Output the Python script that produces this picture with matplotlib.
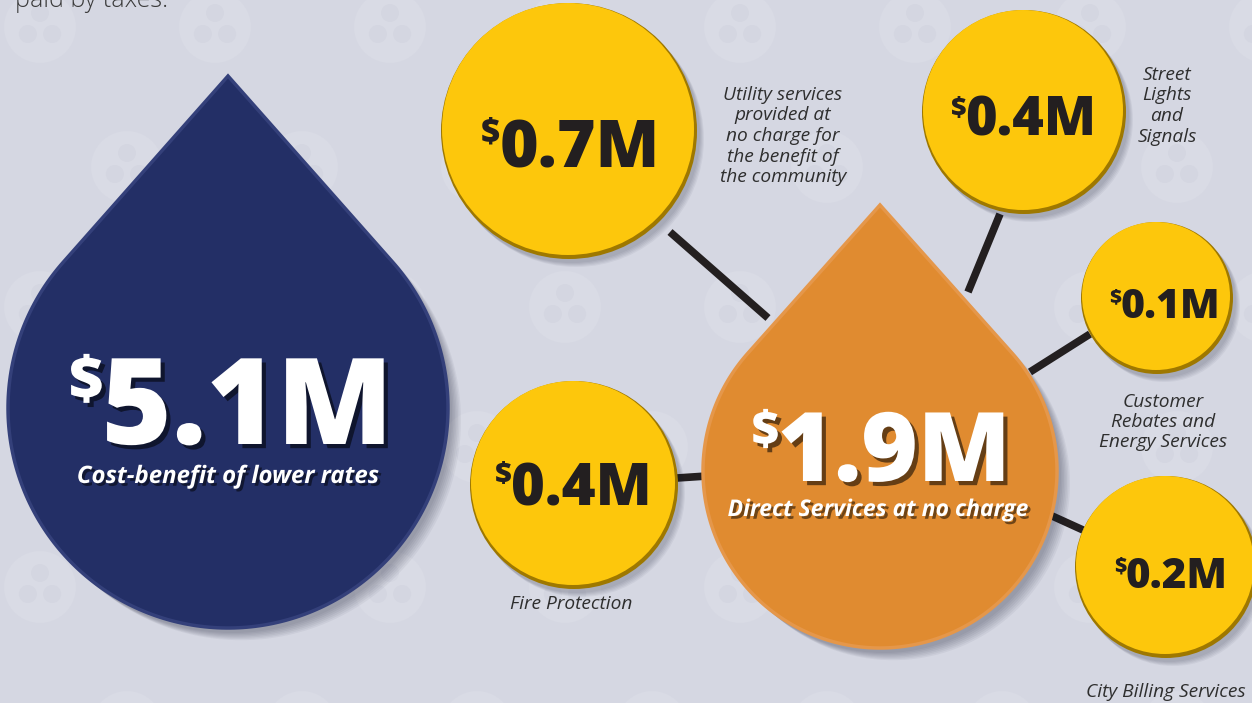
import numpy as np
import matplotlib
matplotlib.use("Agg")
import matplotlib.pyplot as plt
from matplotlib.path import Path
from matplotlib.patches import PathPatch, Circle
import matplotlib.patheffects as pe

# ---------------- data ----------------
main_values = [5.1, 1.9]
main_labels = ["Cost-benefit of lower rates", "Direct Services at no charge"]
service_values = [0.7, 0.4, 0.1, 0.4, 0.2]
service_labels = [
    "Utility services\nprovided at\nno charge for\nthe benefit of\nthe community",
    "Street\nLights\nand\nSignals",
    "Customer\nRebates and\nEnergy Services",
    "Fire Protection",
    "City Billing Services",
]
header_text = "paid by taxes."

# ---------------- layout / style ----------------
W, H = 1252, 703
BG = "#D5D7E2"
NAVY = "#232F66"
ORANGE = "#E08B30"
YELLOW = "#FDC70C"
DARK = "#231F20"
LABEL = "#2E2E2E"

# drops: (cx, cy, r, tip_y)
drop_geom = [(228, 408, 220, 76), (880, 471, 177, 205)]
drop_colors = [NAVY, ORANGE]
drop_edges = ["#34407A", "#E5974A"]
main_num_pos = [(232, 444, 120), (882, 481, 96)]  # x, baseline y, font px
main_lab_pos = [(228, 483, 24), (878, 516, 23)]

# circles: (cx, cy, r)
circ_geom = [(569, 131, 128), (1024, 112, 102), (1157, 298, 76), (574, 485, 104), (1166, 567, 91)]
circ_num = [(571, 167, 66), (1024, 136, 54), (1165, 318, 41), (574, 505, 58), (1171, 588, 42)]
# label anchor (x, first line y center, line step)
lab_pos = [(783, 95, 20.5), (1167, 75, 20.5), (1163, 402, 20), (571, 604, 20), (1166, 692, 20)]
# connectors from circle point to drop point
connectors = [((670, 232), (768, 318)), ((1000, 214), (968, 292)), ((1090, 334), (1030, 372)),
              ((677, 478), (707, 476)), ((1050, 515), (1083, 530))]

fig = plt.figure(figsize=(W / 100, H / 100), dpi=100)
fig.patch.set_facecolor(BG)
ax = fig.add_axes([0, 0, 1, 1])
ax.set_xlim(0, W)
ax.set_ylim(H, 0)
ax.axis("off")
ax.set_facecolor(BG)

# ---- background watermark pattern (very subtle) ----
for row, yy in enumerate(range(27, H + 80, 140)):
    off = 0 if row % 2 == 0 else 87
    for xx in range(40 + off - 175, W + 80, 175):
        ax.add_patch(Circle((xx, yy), 36, facecolor="#D9DBE5", edgecolor="none", zorder=0))
        for ang in (90, 210, 330):
            a = np.deg2rad(ang)
            ax.add_patch(Circle((xx + 14 * np.cos(a), yy - 14 * np.sin(a)), 9,
                                facecolor="#D4D6E1", edgecolor="none", zorder=0))

ax.text(15, 7, header_text, fontsize=18, family="Open Sans", weight="light",
        color="#3A3A3A", ha="left", va="baseline", zorder=1)


def drop_path(cx, cy, r, ty):
    d = cy - ty
    phi = np.arccos(r / d)
    t = np.linspace(-phi, phi - 2 * np.pi, 240)
    xs = cx + r * np.sin(t)
    ys = cy - r * np.cos(t)
    verts = [(cx, ty)] + list(zip(xs, ys)) + [(cx, ty)]
    codes = [Path.MOVETO] + [Path.LINETO] * (len(verts) - 2) + [Path.CLOSEPOLY]
    return Path(verts, codes)


def shadow(path_fn, args, dx, dy, zorder):
    for i in range(7):
        p = path_fn(*args)
        v = p.vertices.copy()
        v[:, 0] += dx + i * 1.5
        v[:, 1] += dy + i * 1.2
        ax.add_patch(PathPatch(Path(v, p.codes), facecolor="#1A1D33", edgecolor="none",
                               alpha=0.05, zorder=zorder))


# ---- connectors ----
for (p0, p1) in connectors:
    ax.plot([p0[0], p1[0]], [p0[1], p1[1]], color=DARK, lw=5.5, solid_capstyle="butt", zorder=2)

# ---- drops ----
for g, fc, ec in zip(drop_geom, drop_colors, drop_edges):
    shadow(drop_path, g, 4, 5, 3)
    ax.add_patch(PathPatch(drop_path(*g), facecolor=fc, edgecolor=ec, lw=2.5, zorder=4))

# ---- circles ----
for (cx, cy, r) in circ_geom:
    for i in range(5):
        ax.add_patch(Circle((cx + 3 + i, cy + 4 + i), r, facecolor="#1A1D33", edgecolor="none",
                            alpha=0.05, zorder=3))
    ax.add_patch(Circle((cx, cy), r, facecolor="#9E7800", edgecolor="none", zorder=4))
    ax.add_patch(Circle((cx - 1, cy - 2), r - 2, facecolor=YELLOW, edgecolor="none", zorder=4))

renderer = fig.canvas.get_renderer()


def money(x, y, value, px, color, shadow_fx=None):
    pt = px * 0.72
    kw = dict(family="Open Sans", weight="heavy", color=color, va="baseline", ha="left", zorder=6)
    if shadow_fx:
        kw["path_effects"] = shadow_fx
    t_main = ax.text(0, y, f"{value:.1f}M", fontsize=pt, **kw)
    t_sup = ax.text(0, y, "$", fontsize=pt * 0.5, **kw)
    wm = t_main.get_window_extent(renderer=renderer).width
    ws = t_sup.get_window_extent(renderer=renderer).width
    left = x - (wm + ws) / 2
    cap = 0.715 * px
    t_sup.set_position((left, y - cap * 0.52))
    t_main.set_position((left + ws - px * 0.02, y))


white_fx = [pe.withSimplePatchShadow(offset=(3, -3), shadow_rgbFace="#000000", alpha=0.55)]
for v, (x, y, px) in zip(main_values, main_num_pos):
    money(x, y, v, px, "white", white_fx)
for lab, (x, y, px) in zip(main_labels, main_lab_pos):
    ax.text(x, y, lab, fontsize=px * 0.72, family="Open Sans", weight="bold", style="italic",
            color="white", ha="center", va="baseline", zorder=6,
            path_effects=[pe.withSimplePatchShadow(offset=(2, -2), shadow_rgbFace="#000000", alpha=0.5)])

for v, (x, y, px) in zip(service_values, circ_num):
    money(x, y, v, px, DARK)

for lab, (x, y, step) in zip(service_labels, lab_pos):
    for i, line in enumerate(lab.split("\n")):
        ax.text(x, y + i * step, line, fontsize=13.8, family="Open Sans", style="italic",
                color=LABEL, ha="center", va="center", zorder=6)

fig.savefig("out.png", dpi=100, facecolor=BG)
